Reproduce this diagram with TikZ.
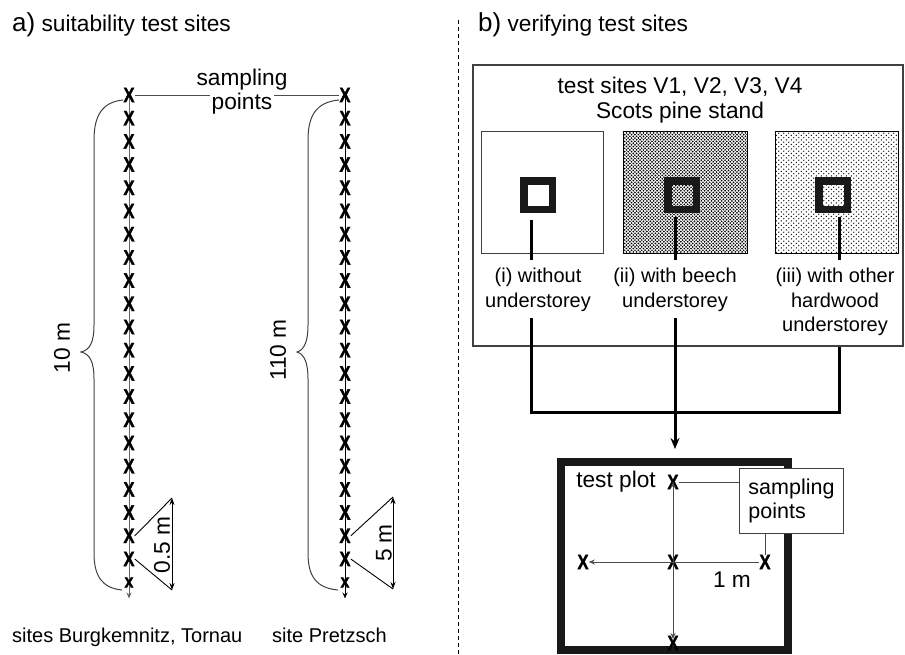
\documentclass[tikz,border=0pt]{standalone}
\usepackage{fontspec}
\setmainfont{Liberation Sans}
\newfontfamily\xfont{Liberation Sans Bold}[FakeBold=1.5]
\newcommand{\myX}{\scalebox{0.8}[1]{X}}
\usetikzlibrary{arrows.meta,patterns.meta,calc}
\pgfdeclarelayer{bg}
\pgfsetlayers{bg,main}
\tikzdeclarepattern{name=densedots,type=colored,bottom left={(-.1pt,-.1pt)},top right={(3.5pt,3.5pt)},tile size={(3.4pt,3.4pt)},
  code={\fill[black] (0.85pt,0.85pt) circle (0.95pt); \fill[black] (2.55pt,2.55pt) circle (0.95pt);}}
\tikzdeclarepattern{name=sparsedots,type=colored,bottom left={(-.1pt,-.1pt)},top right={(5.1pt,4.6pt)},tile size={(5pt,4.5pt)},
  code={\fill[black] (1.25pt,1.1pt) circle (0.65pt); \fill[black] (3.75pt,3.35pt) circle (0.65pt);}}
\tikzset{
  txt/.style={font=\fontsize{22.7}{25}\selectfont, inner sep=2pt},
  lab/.style={font=\fontsize{20}{24.5}\selectfont, align=center, inner sep=2pt},
  xm/.style={font=\fontsize{21}{21}\xfont, inner sep=0pt},
  xs/.style={font=\fontsize{19}{19}\xfont, inner sep=0pt},
  thinl/.style={draw=black!70, line width=0.9pt},
  thickl/.style={line width=3pt},
  brace/.style={draw=black!75, line width=1pt},
  tipa/.tip={Stealth[length=6pt,width=5pt]},
  dimarr/.style={draw=black, line width=0.9pt, {Stealth[length=7pt,width=5pt]}-{Stealth[length=7pt,width=5pt]}},
  sub/.style={draw=black!75, line width=1pt, minimum height=122pt, inner sep=0pt},
  sq/.style={draw=black!90, line width=7.5pt, minimum size=28.5pt, inner sep=0pt}
}
\begin{document}
\begin{tikzpicture}[x=1pt,y=-1pt]
\useasboundingbox (0,0) rectangle (905,654);
% titles
\node[anchor=base west, inner sep=0pt, font=\fontsize{22.7}{25}\selectfont] (ta) at (12,31) {{\fontsize{26}{26}\selectfont a)} suitability test sites};
\node[anchor=base west, inner sep=0pt, font=\fontsize{22.7}{25}\selectfont] (tb) at (478,31) {{\fontsize{26}{26}\selectfont b)} verifying test sites};
% divider
\coordinate (dvt) at (458,20);
\coordinate (dvb) at (458,654);
\draw[line width=0.8pt, dash pattern=on 4pt off 3pt] (dvt) -- (dvb);
% ---------- left panel ----------
\foreach \i in {0,...,20} {
  \node[xm] (xl\i) at (129,{95+23.2*\i}) {\myX};
  \node[xm] (xr\i) at (345,{95+23.2*\i}) {\myX};
}
\node[xs] (xl21) at (129,582.5) {\scalebox{0.85}[1]{x}};
\node[xs] (xr21) at (345,582.5) {\scalebox{0.85}[1]{x}};
\begin{pgfonlayer}{bg}
\draw[draw=black!60, line width=1pt, {tipa}-{tipa}] ($(xl0.center)+(0,-4)$) -- ($(xl21.center)+(0,16)$);
\draw[draw=black, line width=1pt, {tipa}-{tipa}] ($(xr0.center)+(0,-4)$) -- ($(xr21.center)+(0,16)$);
\end{pgfonlayer}
% sampling points label
\node[txt] (spa1) at (242,80) {sampling};
\node[txt] (spa2) at (242,104) {points};
\draw[thinl] (xl0.east) -- (xl0.east -| spa2.west);
\draw[thinl] (xr0.west -| spa2.east) -- (xr0.west);
% braces
\draw[brace] (123,100) .. controls (102,102) and (94,116) .. (94,140) -- (94,325)
  .. controls (94,342) and (90,350) .. (81,352) .. controls (90,354) and (94,362) .. (94,379)
  -- (94,553) .. controls (94,576) and (102,588) .. (122,590);
\draw[brace] (339,100) .. controls (316,102) and (308,116) .. (308,140) -- (308,325)
  .. controls (308,342) and (304,350) .. (297,352) .. controls (304,354) and (308,362) .. (308,379)
  -- (308,553) .. controls (308,576) and (316,588) .. (338,590);
\node[txt, rotate=90] (tenm) at (62,348) {10 m};
\node[txt, rotate=90] (hunm) at (278,350) {110 m};
% dimensions
\coordinate (d1) at (172,498);
\coordinate (d2) at (172,590);
\draw[thinl, draw=black] (xl19.east) -- (d1);
\draw[thinl, draw=black] (xl20.east) -- (d2);
\draw[dimarr] (d1) -- (d2);
\node[txt, rotate=90] (halfm) at (162,545) {0.5 m};
\coordinate (e1) at (393,497);
\coordinate (e2) at (393,589);
\draw[thinl, draw=black] (xr19.east) -- (e1);
\draw[thinl, draw=black] (xr20.east) -- (e2);
\draw[dimarr] (e1) -- (e2);
\node[txt, rotate=90] (fivem) at (384,543) {5 m};
% bottom labels
\node[anchor=base west, inner sep=0pt, font=\fontsize{20}{24}\selectfont] (s1) at (12,642) {sites Burgkemnitz, Tornau};
\node[anchor=base west, inner sep=0pt, font=\fontsize{20}{24}\selectfont] (s2) at (272,642) {site Pretzsch};
% ---------- right panel ----------
\node[draw=black!75, line width=1.1pt, minimum width=430pt, minimum height=281pt, inner sep=0pt] (site) at (688,205.5) {};
\node[txt, align=center] (sitet) at (680,100) {test sites V1, V2, V3, V4\\Scots pine stand};
\node[sub, minimum width=122pt] (bi) at (542,192) {};
\node[sub, draw=black, minimum width=124pt, pattern=densedots] (bii) at (685,192) {};
\node[sub, draw=black, minimum width=123pt, pattern=sparsedots] (biii) at (836.5,192) {};
\node[sq] (sqi) at (538,195) {};
\node[sq] (sqii) at (682,195) {};
\node[sq] (sqiii) at (833,195) {};
\node[lab] (li) at (538,290) {(i) without\\understorey};
\node[lab] (lii) at (675,290) {(ii) with beech\\understorey};
\node[lab] (liii) at (835,302) {(iii) with other\\hardwood\\understorey};
\coordinate (ci) at (531,0);
\coordinate (cii) at (675,0);
\coordinate (ciii) at (839,0);
\draw[thickl] ($(sqi.south -| ci)+(0,7)$) -- ($(li.north -| ci)+(0,-6)$);
\draw[thickl] ($(sqii.south -| cii)+(0,4)$) -- ($(lii.north -| cii)+(0,-6)$);
\draw[thickl] ($(sqiii.south -| ciii)+(0,4)$) -- ($(liii.north -| ciii)+(0,-6)$);
% collecting connector
\coordinate (hb1) at (531,412);
\coordinate (hb3) at (839,412);
\draw[thickl] ($(li.south -| ci)+(0,4)$) -- (hb1) -- (hb3) -- (site.south -| hb3);
% test plot
\node[draw=black!90, line width=8pt, minimum width=227pt, minimum height=188pt, inner sep=0pt] (tp) at (674.5,556) {};
\draw[thickl, -{Stealth[length=11pt,width=9pt]}] ($(lii.south -| cii)+(0,4)$) -- ($(tp.north -| cii)+(0,-9)$);
\node[txt] (tpl) at (616,482) {test plot};
\node[xm] (tX) at (673,482) {\myX};
\node[xm] (cX) at (673,562) {\myX};
\node[xm] (lX) at (583,562) {\myX};
\node[xm] (rX) at (765,562) {\myX};
\node[xm] (bX) at (673,643) {\myX};
\draw[thinl, -{tipa}] (cX.center) -- (tX.center);
\draw[thinl, -{tipa}] (cX.center) -- ($(bX.center)+(0,-4)$);
\draw[thinl, -{tipa}] (cX.center) -- (lX.east);
\draw[thinl] (cX.center) -- (rX.west);
\node[txt] (onem) at (732,580) {1 m};
\node[draw=black!75, line width=1pt, fill=white, anchor=north west, minimum width=104pt, minimum height=65pt,
  align=left, font=\fontsize{21.5}{24.5}\selectfont, inner sep=7pt] (sbx) at (739,468) {sampling\\points};
\draw[thinl] (tX.east) -- (sbx.west |- tX.east);
\draw[thinl] (sbx.south -| rX.north) -- (rX.north);
\end{tikzpicture}
\end{document}
